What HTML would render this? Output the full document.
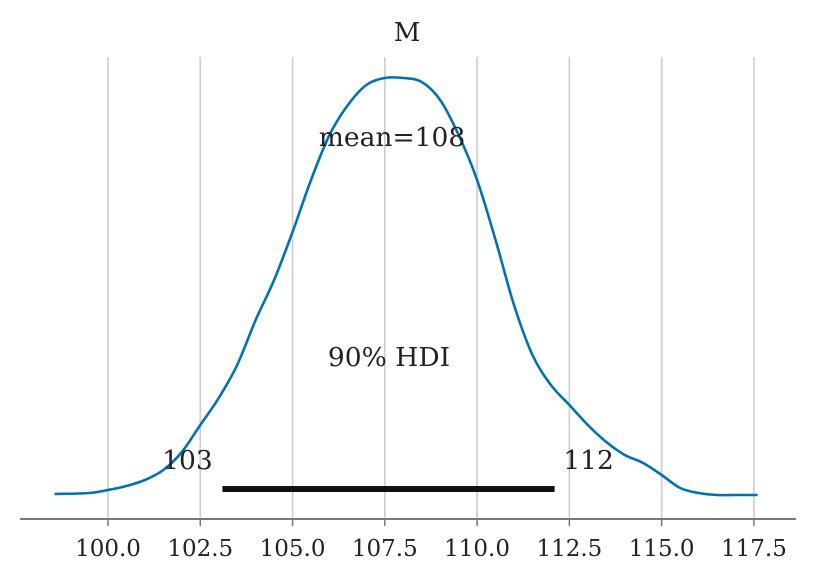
<!DOCTYPE html>
<html><head><meta charset="utf-8"><style>
body{margin:0;background:#fff}
svg text{font-family:"DejaVu Serif","Liberation Serif",serif;fill:#222}
</style></head><body>
<svg id="chart" width="815" height="580" xmlns="http://www.w3.org/2000/svg">
<text x="407" y="41" font-size="26" text-anchor="middle">M</text>
<g id="grid"></g>
<g id="axis"></g>
<path id="kde" fill="none" stroke="#0072b2" stroke-width="2.6"/>
<g id="hdi"></g>
<text id="meanlbl" x="392" y="146" font-size="26.5" text-anchor="middle">mean=108</text>
<text x="389" y="366" font-size="26.5" text-anchor="middle">90% HDI</text>
</svg>
<script>
const xs=[98.55,99.5,100,100.5,101,101.5,102,102.5,103,103.5,104,104.5,105,105.5,106,106.5,107,107.5,108,108.5,109,109.5,110,110.5,111,111.5,112,112.5,113,113.5,114,114.5,115,115.5,116,116.5,117,117.6];
const dens=[1,2,5,9,15,25,43,70,97,130,175,215,263,315,360,390,410,417,417,413,395,360,315,255,190,140,110,90,70,53,40,32,20,7,2,0,0,0];
const ticks=[100,102.5,105,107.5,110,112.5,115,117.5];
const tickLabels=["100.0","102.5","105.0","107.5","110.0","112.5","115.0","117.5"];
const hdi=[103.1,112.1];
const hdiLabels=["103","112"];
const NS="http://www.w3.org/2000/svg";
const X=v=>108+(v-100)*36.91;
const Y=d=>495-d;
const svg=document.getElementById('chart');
const grid=document.getElementById('grid'),axis=document.getElementById('axis');
ticks.forEach((t,i)=>{
 const l=document.createElementNS(NS,'line');
 l.setAttribute('x1',X(t));l.setAttribute('x2',X(t));l.setAttribute('y1',57);l.setAttribute('y2',519);
 l.setAttribute('stroke','#cccccc');l.setAttribute('stroke-width','1.6');
 
 
 grid.appendChild(l);
 const k=document.createElementNS(NS,'line');
 k.setAttribute('x1',X(t));k.setAttribute('x2',X(t));k.setAttribute('y1',519);k.setAttribute('y2',526);
 k.setAttribute('stroke','#777');k.setAttribute('stroke-width','1.5');
 
 
 axis.appendChild(k);
 const tx=document.createElementNS(NS,'text');
 tx.setAttribute('x',X(t));tx.setAttribute('y',556);tx.setAttribute('font-size','23');tx.setAttribute('text-anchor','middle');
 tx.textContent=tickLabels[i];
 
 
 axis.appendChild(tx);
});
const ax=document.createElementNS(NS,'line');
ax.setAttribute('x1',20);ax.setAttribute('x2',796);ax.setAttribute('y1',519);ax.setAttribute('y2',519);
ax.setAttribute('stroke','#777');ax.setAttribute('stroke-width','2');


axis.appendChild(ax);
const pts=xs.map((v,i)=>[X(v),Y(dens[i])]);
let d='M'+pts[0][0]+','+pts[0][1];
for(let i=0;i<pts.length-1;i++){
 const p0=pts[i-1]||pts[i],p1=pts[i],p2=pts[i+1],p3=pts[i+2]||p2;
 d+=' C'+(p1[0]+(p2[0]-p0[0])/6)+','+(p1[1]+(p2[1]-p0[1])/6)+' '+(p2[0]-(p3[0]-p1[0])/6)+','+(p2[1]-(p3[1]-p1[1])/6)+' '+p2[0]+','+p2[1];
}
document.getElementById('kde').setAttribute('d',d);
const h=document.getElementById('hdi');
const b=document.createElementNS(NS,'line');
b.setAttribute('x1',X(hdi[0]));b.setAttribute('x2',X(hdi[1]));b.setAttribute('y1',489);b.setAttribute('y2',489);
b.setAttribute('stroke','#111');b.setAttribute('stroke-width','6');


h.appendChild(b);
hdi.forEach((v,i)=>{
 const t=document.createElementNS(NS,'text');
 t.setAttribute('x',X(v)+(i?34:-35));t.setAttribute('y',469);t.setAttribute('font-size','26.5');t.setAttribute('text-anchor','middle');
 t.textContent=hdiLabels[i];
 
 
 h.appendChild(t);
});
</script>
</body></html>
